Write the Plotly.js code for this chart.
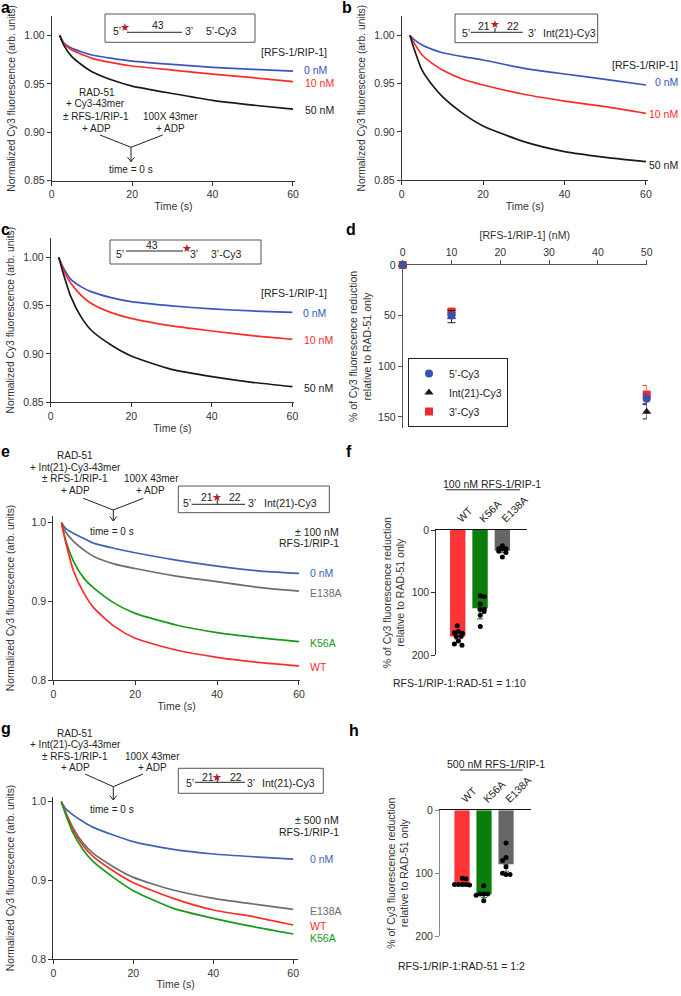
<!DOCTYPE html>
<html>
<head>
<meta charset="utf-8">
<script src="https://cdn.plot.ly/plotly-3.0.1.min.js"></script>
<style>
  body { margin: 0; background: #fff; }
  #fig { width: 681px; height: 996px; }
</style>
</head>
<body>
<div id="fig"></div>
<script>
// ---- data ----
const timeS = [2, 3, 5, 7.5, 10, 15, 20, 30, 40, 50, 60];

// a: 5'-Cy3 substrate
const a0nM  = [1.000, 0.9924, 0.9866, 0.9828, 0.9797, 0.9763, 0.9735, 0.9700, 0.9670, 0.9650, 0.9630];
const a10nM = [1.000, 0.9914, 0.9849, 0.9804, 0.9763, 0.9718, 0.9684, 0.9642, 0.9600, 0.9563, 0.9522];
const a50nM = [1.000, 0.9900, 0.9780, 0.9694, 0.9625, 0.9539, 0.9477, 0.9400, 0.9329, 0.9280, 0.9239];
// b: Int(21)-Cy3 substrate
const b0nM  = [1.000, 0.9959, 0.9900, 0.9855, 0.9820, 0.9780, 0.9745, 0.9659, 0.9600, 0.9545, 0.9486];
const b10nM = [1.000, 0.9924, 0.9797, 0.9710, 0.9641, 0.9545, 0.9486, 0.9390, 0.9320, 0.9262, 0.9193];
const b50nM = [1.000, 0.9866, 0.9640, 0.9486, 0.9366, 0.9193, 0.9062, 0.8900, 0.8797, 0.8738, 0.8693];
// c: 3'-Cy3 substrate
const c0nM  = [1.000, 0.9903, 0.9772, 0.9697, 0.9645, 0.9583, 0.9541, 0.9497, 0.9466, 0.9445, 0.9431];
const c10nM = [1.000, 0.9886, 0.9731, 0.9610, 0.9524, 0.9428, 0.9369, 0.9290, 0.9238, 0.9190, 0.9152];
const c50nM = [1.000, 0.9852, 0.9593, 0.9386, 0.9248, 0.9093, 0.8979, 0.8841, 0.8766, 0.8707, 0.8662];

// d: % reduction vs [RFS-1/RIP-1]
const doseNM     = [0, 10, 50];
const pct5Cy3    = [0, 50, 132];
const err5Cy3    = [1, 3, 5];
const pctInt21   = [0, 51, 145];
const errInt21   = [1, 6, 7];
const pct3Cy3    = [0, 46, 128];
const err3Cy3    = [1, 2, 9];

// e: +/- 100 nM RFS-1/RIP-1 variants
const e0nM   = [1.000, 0.9928, 0.9865, 0.9800, 0.9738, 0.9674, 0.9620, 0.9526, 0.9450, 0.9390, 0.9357];
const eE138A = [1.000, 0.9886, 0.9760, 0.9653, 0.9569, 0.9476, 0.9420, 0.9323, 0.9252, 0.9180, 0.9133];
const eK56A  = [1.000, 0.9780, 0.9505, 0.9294, 0.9167, 0.8977, 0.8850, 0.8702, 0.8605, 0.8541, 0.8490];
const eWT    = [1.000, 0.9759, 0.9378, 0.9104, 0.8913, 0.8681, 0.8533, 0.8385, 0.8292, 0.8228, 0.8182];
// g: +/- 500 nM RFS-1/RIP-1 variants
const g0nM   = [1.000, 0.9915, 0.9830, 0.9746, 0.9674, 0.9576, 0.9492, 0.9394, 0.9335, 0.9300, 0.9271];
const gE138A = [1.000, 0.9873, 0.9661, 0.9470, 0.9343, 0.9174, 0.9038, 0.8877, 0.8771, 0.8699, 0.8631];
const gWT    = [1.000, 0.9873, 0.9640, 0.9436, 0.9301, 0.9119, 0.8970, 0.8771, 0.8623, 0.8538, 0.8432];
const gK56A  = [1.000, 0.9852, 0.9597, 0.9386, 0.9237, 0.9038, 0.8869, 0.8644, 0.8517, 0.8411, 0.8318];

// f / h: bar summaries with replicates
const mutants  = ['WT', 'K56A', 'E138A'];
const f100Mean = [170, 125, 33];
const f100Err  = [5, 17, 3];
const f100Reps = [
  [153, 164, 162, 165, 170, 170, 182, 177, 184],
  [105, 106, 118, 126, 127, 130, 136, 154],
  [25, 30, 30, 30, 34, 36, 43]
];
const h500Mean = [116, 134, 86];
const h500Err  = [2, 5, 11];
const h500Reps = [
  [118, 118, 118, 118, 119, 108, 109],
  [120, 135, 133, 133, 133, 144],
  [52, 75, 80, 90, 100, 102, 102]
];

// ---- styling ----
const W = 681, H = 996;
const FONT = 'Liberation Sans, Arial, sans-serif';
const BLUE = '#3a56c0', RED = '#ff2b2b', BLACK = '#1a1a1a';
const BLUE2 = '#3e63b6', GRAY = '#6e6e6e', GREEN = '#179a17';
const BAR_COLORS = ['#ff3535', '#0b7d0b', '#666666'];
// horizontal spread of replicate dots (category units)
const fJitter = [
  [-0.02, -0.15, 0.03, 0.21, -0.07, 0.15, -0.15, 0.03, 0.19],
  [0.01, 0.19, 0.01, 0.19, 0.0, 0.18, 0.01, 0.01],
  [0, -0.16, 0, 0.16, -0.16, 0.16, 0]
];
const hJitter = [
  [-0.34, -0.16, 0.015, 0.18, 0.34, 0.015, 0.18],
  [-0.015, -0.36, -0.18, -0.015, 0.16, -0.015],
  [0, 0, -0.16, 0, -0.16, 0, 0.18]
];

const px = x => x / W;
const py = y => 1 - y / H;

const traces = [];
const layout = {
  width: W, height: H,
  margin: {l: 0, r: 0, t: 0, b: 0},
  paper_bgcolor: '#fff', plot_bgcolor: 'rgba(0,0,0,0)',
  font: {family: FONT, size: 10.5, color: '#222'},
  showlegend: true,
  legend: {
    x: px(408), y: py(358), xanchor: 'left', yanchor: 'top',
    bordercolor: '#222', borderwidth: 1, bgcolor: 'rgba(0,0,0,0)',
    font: {size: 10.5}, traceorder: 'reversed', itemwidth: 30
  },
  annotations: [],
  shapes: []
};

function addAxes(n, x0, x1, y0, y1, xo, yo) {
  const sfx = n === 1 ? '' : String(n);
  const base = {
    showline: true, linecolor: '#333', linewidth: 1, ticks: 'outside', ticklen: 4,
    tickwidth: 1, tickcolor: '#333', showgrid: false, zeroline: false, fixedrange: true,
    tickfont: {size: 10.5, color: '#333'}
  };
  layout['xaxis' + sfx] = Object.assign({}, base, {domain: [px(x0), px(x1)], anchor: 'y' + sfx}, xo);
  layout['yaxis' + sfx] = Object.assign({}, base, {domain: [py(y1), py(y0)], anchor: 'x' + sfx}, yo);
}

function timeAxes(n, x0, x1, y0, y1, xmax, yr, fine) {
  addAxes(n, x0, x1, y0, y1,
    {range: [0, xmax], tickvals: [0, 20, 40, 60],
     title: {text: 'Time (s)', font: {size: 10.5, color: '#333'}, standoff: 3}},
    {range: yr,
     tickvals: fine ? [0.85, 0.90, 0.95, 1.00] : [0.8, 0.9, 1.0],
     tickformat: fine ? '.2f' : '.1f',
     title: {text: 'Normalized Cy3 fluorescence (arb. units)', font: {size: 10.3, color: '#333'},
             standoff: fine ? 6 : 14}});
}

function curve(n, y, color) {
  const sfx = n === 1 ? '' : String(n);
  traces.push({
    x: timeS, y: y, type: 'scatter', mode: 'lines', showlegend: false,
    line: {color: color, width: 1.7, shape: 'spline', smoothing: 0.6},
    xaxis: 'x' + sfx, yaxis: 'y' + sfx, hoverinfo: 'skip'
  });
}

function T(text, x, y, o) {
  o = o || {};
  layout.annotations.push({
    text: text, x: px(x), y: py(y), xref: 'paper', yref: 'paper', showarrow: false,
    xanchor: o.anchor || 'center', yanchor: 'middle', borderpad: 0,
    font: {size: o.size || 10.5, color: o.color || '#222', family: FONT}
  });
}
function star(x, y) {
  layout.annotations.push({
    text: '\u2605', x: px(x), y: py(y), xref: 'paper', yref: 'paper', showarrow: false,
    xanchor: 'center', yanchor: 'middle', font: {size: 11, color: '#b3202a', family: 'DejaVu Sans'}
  });
}
function L(x0, y0, x1, y1, color, width) {
  layout.shapes.push({type: 'line', xref: 'paper', yref: 'paper',
    x0: px(x0), y0: py(y0), x1: px(x1), y1: py(y1),
    line: {color: color || '#222', width: width || 1}});
}
function box(x0, y0, x1, y1) {
  layout.shapes.push({type: 'rect', xref: 'paper', yref: 'paper',
    x0: px(x0), y0: py(y1), x1: px(x1), y1: py(y0),
    line: {color: '#555', width: 1}, fillcolor: 'rgba(0,0,0,0)'});
}
function arrowV(xl, xr, yTop, xm, yJoin, yEnd) {
  L(xl, yTop, xm, yJoin); L(xr, yTop, xm, yJoin); L(xm, yJoin, xm, yEnd);
  L(xm - 3.5, yEnd - 4.5, xm, yEnd); L(xm + 3.5, yEnd - 4.5, xm, yEnd);
}
function label(t, x, y) { T('<b>' + t + '</b>', x, y, {anchor: 'left', size: 16, color: '#000'}); }
const S = {size: 10};

// ---- panel a ----
timeAxes(1, 51.7, 295, 16, 180.7, 60.5, [0.85, 1.02], true);
curve(1, a0nM, BLUE); curve(1, a10nM, RED); curve(1, a50nM, BLACK);
label('a', 0, 8);
box(105, 14, 255, 42.3);
L(127, 32.3, 182, 32.3);
T('5\u2019', 116.7, 31); star(125, 27); T('43', 158.3, 25); T('3\u2019', 189, 31); T('5\u2019-Cy3', 221.7, 31);
T('[RFS-1/RIP-1]', 260, 52, {anchor: 'left'});
T('0 nM', 303, 70, {anchor: 'left', color: BLUE});
T('10 nM', 304, 83, {anchor: 'left', color: RED});
T('50 nM', 304, 110, {anchor: 'left', color: BLACK});
T('RAD-51', 97, 92, S); T('+ Cy3-43mer', 95, 104, S); T('\u00b1 RFS-1/RIP-1', 96, 116, S); T('+ ADP', 96, 128, S);
T('100X 43mer', 170, 116, S); T('+ ADP', 170, 128, S);
arrowV(100, 162.7, 135, 131, 147.3, 161.7);
T('time = 0 s', 131, 169.3, S);

// ---- panel b ----
timeAxes(2, 401.7, 648, 16, 180.3, 60.5, [0.85, 1.02], true);
curve(2, b0nM, BLUE); curve(2, b10nM, RED); curve(2, b50nM, BLACK);
label('b', 341, 8);
box(455, 14, 597.7, 42.7);
L(470.7, 32.3, 522.7, 32.3); L(495, 28, 495, 32.3);
T('5\u2019', 466, 33); T('21', 484.3, 26); star(495, 25); T('22', 513.3, 26); T('3\u2019', 531.7, 33);
T('Int(21)-Cy3', 569.3, 33);
T('[RFS-1/RIP-1]', 679, 65, {anchor: 'right'});
T('0 nM', 679, 82, {anchor: 'right', color: BLUE});
T('10 nM', 679, 114, {anchor: 'right', color: RED});
T('50 nM', 679, 165, {anchor: 'right', color: BLACK});

// ---- panel c ----
timeAxes(3, 50.7, 294, 238, 402.3, 60.4, [0.85, 1.02], true);
curve(3, c0nM, BLUE); curve(3, c10nM, RED); curve(3, c50nM, BLACK);
label('c', 0, 230);
box(110, 240, 261, 264);
L(126, 251, 183, 251);
T('5\u2019', 120, 253.7); T('43', 152, 245); star(186.7, 248.3); T('3\u2019', 194, 253.7); T('3\u2019-Cy3', 226.7, 253.7);
T('[RFS-1/RIP-1]', 260, 293.3, {anchor: 'left'});
T('0 nM', 301.7, 313.3, {anchor: 'left', color: BLUE});
T('10 nM', 303, 340, {anchor: 'left', color: RED});
T('50 nM', 303, 387.7, {anchor: 'left', color: BLACK});

// ---- panel d ----
addAxes(4, 402.7, 646.7, 265, 428,
  {range: [0, 50], side: 'top', tickvals: [0, 10, 20, 30, 40, 50], linecolor: '#555', tickcolor: '#555',
   title: {text: '[RFS-1/RIP-1] (nM)', font: {size: 10.5, color: '#333'}, standoff: 4}},
  {range: [161, 0], tickvals: [0, 50, 100, 150], linecolor: '#555', tickcolor: '#555',
   title: {text: '% of Cy3 fluorescence reduction<br>relative to RAD-51 only', font: {size: 10.5, color: '#333'}, standoff: 4}});
label('d', 345, 230);
[
  {name: '3\u2019-Cy3', y: pct3Cy3, e: err3Cy3, color: '#ee2a2a', symbol: 'square'},
  {name: 'Int(21)-Cy3', y: pctInt21, e: errInt21, color: BLACK, symbol: 'triangle-up'},
  {name: '5\u2019-Cy3', y: pct5Cy3, e: err5Cy3, color: '#3a50b0', symbol: 'circle'}
].forEach(s => traces.push({
  x: doseNM, y: s.y, name: s.name, type: 'scatter', mode: 'markers',
  marker: {color: s.color, symbol: s.symbol, size: 8},
  error_y: {type: 'data', array: s.e, color: s.color, thickness: 1, width: 4},
  xaxis: 'x4', yaxis: 'y4', cliponaxis: false
}));

// ---- panel e ----
timeAxes(5, 53.3, 300, 515.7, 680.3, 60.25, [0.8, 1.009], false);
curve(5, e0nM, BLUE2); curve(5, eE138A, GRAY); curve(5, eK56A, GREEN); curve(5, eWT, RED);
label('e', 0, 451.7);
T('RAD-51', 75, 455.5, S); T('+ Int(21)-Cy3-43mer', 75, 467, S); T('\u00b1 RFS-1/RIP-1', 75, 478.5, S); T('+ ADP', 75, 490, S);
T('100X 43mer', 151.7, 478.5, S); T('+ ADP', 150, 490, S);
arrowV(83.3, 143.3, 498.3, 113.3, 510, 521);
T('time = 0 s', 111.7, 531.7, S);
box(178.3, 486, 329.3, 512.7);
L(191.7, 504.3, 245, 504.3); L(217.3, 500, 217.3, 504.3);
T('5\u2019', 186.5, 503.3); T('21', 206.7, 497.3); star(217.3, 497.3); T('22', 235, 497.3); T('3\u2019', 252.3, 503.3);
T('Int(21)-Cy3', 290, 503.3);
T('\u00b1 100 nM', 340, 531.7, {anchor: 'right'});
T('RFS-1/RIP-1', 340, 543, {anchor: 'right'});
T('0 nM', 309.3, 573.3, {anchor: 'left', color: BLUE2});
T('E138A', 309.3, 592.7, {anchor: 'left', color: GRAY});
T('K56A', 309.3, 643.3, {anchor: 'left', color: GREEN});
T('WT', 309.3, 666.7, {anchor: 'left', color: RED});

// ---- bar panels f / h ----
function barPanel(n, x0, x1, y0, y1, xr, means, errs, reps, jitter, ycolor) {
  const sfx = String(n);
  addAxes(n, x0, x1, y0, y1,
    {range: xr, side: 'top', tickvals: [0, 1, 2], ticktext: mutants, ticks: '', tickangle: -45,
     linecolor: '#111', linewidth: 1.2, tickfont: {size: 10.5, color: '#222'}},
    {range: [200, 0], tickvals: [0, 100, 200], linecolor: ycolor, tickcolor: ycolor,
     title: {text: '% of Cy3 fluorescence reduction<br>relative to RAD-51 only', font: {size: 10.5, color: '#333'}, standoff: 4}});
  means.forEach((m, i) => traces.push({
    x: [i], y: [m], type: 'bar', width: 0.69, showlegend: false,
    marker: {color: BAR_COLORS[i], line: {width: 0}},
    error_y: {type: 'data', symmetric: false, array: [errs[i]], arrayminus: [0],
              color: BAR_COLORS[i], thickness: 1, width: 3},
    xaxis: 'x' + sfx, yaxis: 'y' + sfx, hoverinfo: 'skip'
  }));
  const dx = [], dy = [];
  reps.forEach((r, i) => r.forEach((v, k) => { dx.push(i + jitter[i][k]); dy.push(v); }));
  traces.push({
    x: dx, y: dy, type: 'scatter', mode: 'markers', showlegend: false,
    marker: {color: '#000', size: 5}, xaxis: 'x' + sfx, yaxis: 'y' + sfx, cliponaxis: false, hoverinfo: 'skip'
  });
}

barPanel(6, 436.3, 526.7, 530, 655.3, [-0.96, 3.09], f100Mean, f100Err, f100Reps, fJitter, '#333');
label('f', 345, 451.7);
T('100 nM RFS-1/RIP-1', 492, 483.5);
L(446, 489.8, 520, 489.8);
T('RFS-1/RIP-1:RAD-51 = 1:10', 459, 683);

// ---- panel g ----
timeAxes(7, 53.3, 298, 797, 959, 61.2, [0.8, 1.006], false);
curve(7, g0nM, BLUE2); curve(7, gE138A, GRAY); curve(7, gWT, RED); curve(7, gK56A, GREEN);
label('g', 0, 728.3);
T('RAD-51', 75, 733, S); T('+ Int(21)-Cy3-43mer', 75, 744.5, S); T('\u00b1 RFS-1/RIP-1', 75, 756, S); T('+ ADP', 75, 767.5, S);
T('100X 43mer', 152.3, 756, S); T('+ ADP', 152, 767.5, S);
arrowV(85, 143, 774, 113.3, 786.7, 800);
T('time = 0 s', 111.7, 809, S);
box(178.3, 768.3, 323.3, 793.3);
L(195, 782.3, 245, 782.3); L(217.3, 779, 217.3, 782.3);
T('5\u2019', 190, 783.3); T('21', 208.3, 777); star(217.3, 777); T('22', 235.7, 777); T('3\u2019', 250.7, 783.3);
T('Int(21)-Cy3', 288.3, 783.3);
T('\u00b1 500 nM', 340, 820, {anchor: 'right'});
T('RFS-1/RIP-1', 340, 831.7, {anchor: 'right'});
T('0 nM', 309.3, 859.3, {anchor: 'left', color: BLUE2});
T('E138A', 309.3, 910.7, {anchor: 'left', color: GRAY});
T('WT', 309.3, 925.7, {anchor: 'left', color: RED});
T('K56A', 309.3, 937.5, {anchor: 'left', color: GREEN});

// ---- panel h ----
barPanel(8, 440, 530.7, 810.3, 936, [-1.0, 3.12], h500Mean, h500Err, h500Reps, hJitter, '#888');
label('h', 348, 730);
T('500 nM RFS-1/RIP-1', 495.5, 763.5);
L(460, 770, 522.7, 770);
T('RFS-1/RIP-1:RAD-51 = 1:2', 461.3, 966);

Plotly.newPlot('fig', traces, layout, {displayModeBar: false, staticPlot: true});
</script>
</body>
</html>
